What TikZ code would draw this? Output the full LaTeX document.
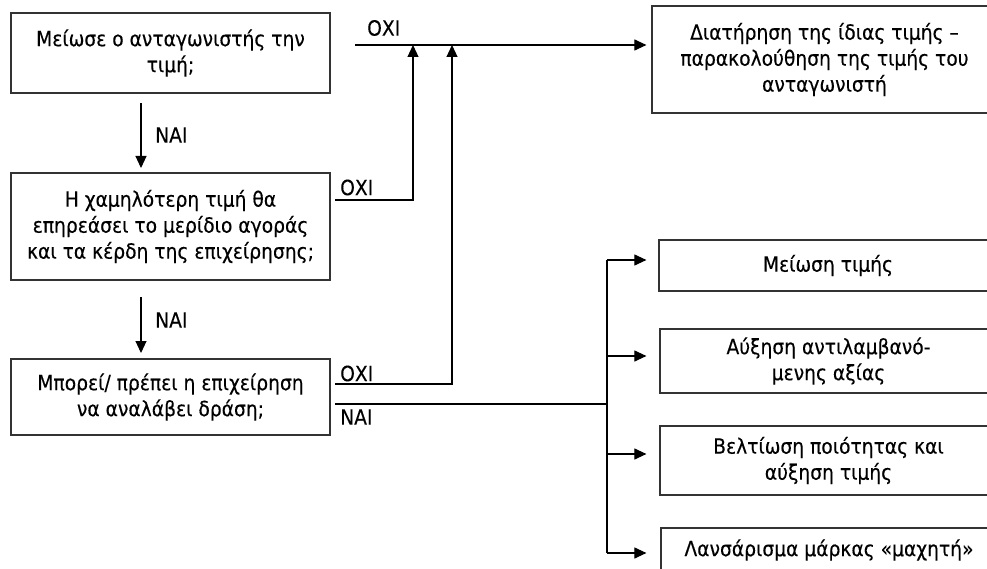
\documentclass[tikz,border=0pt]{standalone}
\usepackage{fontspec}
\setmainfont{DejaVu Sans}[FakeStretch=0.89,FakeBold=0.3]
\usetikzlibrary{arrows.meta}
\begin{document}
\begin{tikzpicture}[x=1pt,y=-1pt,
  box/.style={draw=black!80, line width=1.2pt, align=center, inner sep=0pt,
    font=\fontsize{21}{26}\selectfont},
  lbl/.style={font=\fontsize{21}{24}\selectfont, inner sep=0pt, anchor=west},
  conn/.style={draw=black, line width=1.1pt},
  arr/.style={conn, -{Triangle[length=12pt,width=11pt]}}]
\useasboundingbox (0,0) rectangle (987,569);
\clip (0,0) rectangle (987,569);
% left boxes
\node[box, minimum width=319pt, minimum height=80pt] (q1) at (170.5,53)
  {Μείωσε ο ανταγωνιστής την\\τιμή;};
\node[box, minimum width=319pt, minimum height=107pt] (q2) at (170.5,226.5)
  {Η χαμηλότερη τιμή θα\\επηρεάσει το μερίδιο αγοράς\\και τα κέρδη της επιχείρησης;};
\node[box, minimum width=319pt, minimum height=76pt] (q3) at (170.5,397)
  {Μπορεί/ πρέπει η επιχείρηση\\να αναλάβει δράση;};
% right boxes
\node[box, minimum width=345pt, minimum height=107pt] (r1) at (824.5,59.5)
  {Διατήρηση της ίδιας τιμής –\\παρακολούθηση της τιμής του\\ανταγωνιστή};
\node[box, minimum width=338pt, minimum height=51pt] (r2) at (828,265.5)
  {Μείωση τιμής};
\node[box, minimum width=337pt, minimum height=64pt] (r3) at (828.5,361)
  {Αύξηση αντιλαμβανό-\\μενης αξίας};
\node[box, minimum width=337pt, minimum height=69pt] (r4) at (828.5,460.5)
  {Βελτίωση ποιότητας και\\αύξηση τιμής};
\node[box, minimum width=336pt, minimum height=44pt] (r5) at (829,550)
  {Λανσάρισμα μάρκας «μαχητή»};
% junction coordinates
\coordinate (t0) at (355,45);
\coordinate (j1) at (413,45);
\coordinate (j2) at (452,45);
\coordinate (s2) at (335,200);
\coordinate (s3o) at (335,384);
\coordinate (s3n) at (335,404);
\coordinate (b0) at (607,404);
\coordinate (b2) at (607,260);
\coordinate (b3) at (607,356);
\coordinate (b4) at (607,454);
\coordinate (b5) at (607,553);
\coordinate (a1s) at (141,103);
\coordinate (a1e) at (141,168);
\coordinate (a2s) at (141,297);
\coordinate (a2e) at (141,353);
% NAI arrows
\draw[arr] (a1s) -- (a1e);
\draw[arr] (a2s) -- (a2e);
\node[lbl] (n1) at (155,135) {ΝΑΙ};
\node[lbl] (n2) at (155,320) {ΝΑΙ};
% OXI connectors
\draw[arr, shorten >=5pt] (t0) -- (t0 -| r1.west);
\draw[arr] (s2) -| (j1);
\draw[arr] (s3o) -| (j2);
\node[lbl] (o1) at (367,28) {ΟΧΙ};
\node[lbl] (o2) at (340,187.5) {ΟΧΙ};
\node[lbl] (o3) at (340,373.5) {ΟΧΙ};
\node[lbl] (n3) at (340,417) {ΝΑΙ};
% NAI branch
\draw[conn] (s3n) -- (b0);
\draw[conn] (b2) -- (b5);
\draw[arr, shorten >=12pt] (b2) -- (b2 -| r2.west);
\draw[arr, shorten >=13pt] (b3) -- (b3 -| r3.west);
\draw[arr, shorten >=13pt] (b4) -- (b4 -| r4.west);
\draw[arr, shorten >=14pt] (b5) -- (b5 -| r5.west);
\end{tikzpicture}
\end{document}
